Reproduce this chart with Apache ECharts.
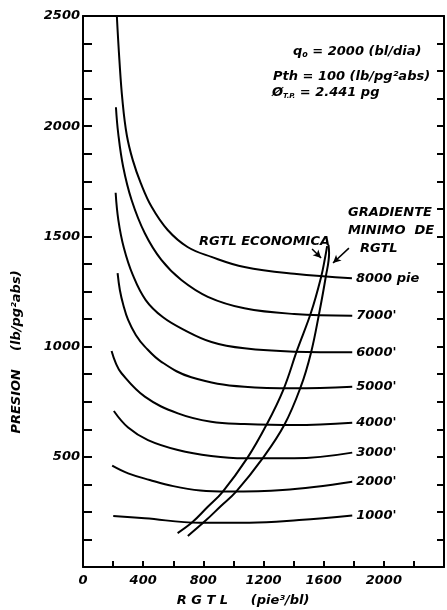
<!DOCTYPE html>
<html><head><meta charset="utf-8">
<script src="https://cdn.jsdelivr.net/npm/echarts@6/dist/echarts.min.js"></script>
<style>html,body{margin:0;padding:0;background:#fff}#c{width:447px;height:610px}</style>
</head><body><div id="c"></div>
<script>
// Tick labels
const xLabelValues = [0, 400, 800, 1200, 1600, 2000];
const yLabelValues = [500, 1000, 1500, 2000, 2500];
// Depth curve labels
const depthLabels = ["8000 pie", "7000'", "6000'", "5000'", "4000'", "3000'", "2000'", "1000'"];
// Pressure curves [RGTL, pressure]
const curve8000 = [[225,2500],[242,2300],[262,2119],[291,1960],[331,1846],[384,1742],[457,1633],[563,1529],[695,1452],[854,1407],[1073,1361],[1404,1330],[1788,1310]];
const curve7000 = [[219,2086],[234,1968],[267,1816],[323,1665],[411,1514],[521,1393],[654,1302],[830,1226],[1073,1174],[1404,1148],[1790,1140]];
const curve6000 = [[217,1698],[235,1574],[272,1447],[331,1325],[417,1211],[530,1134],[675,1075],[854,1021],[1073,992],[1404,977],[1790,974]];
const curve5000 = [[230,1333],[245,1257],[268,1189],[300,1121],[351,1053],[411,1000],[521,931],[720,861],[1073,818],[1404,811],[1790,818]];
const curve4000 = [[190,980],[218,925],[256,879],[411,773],[631,697],[852,659],[1073,649],[1404,644],[1790,655]];
const curve3000 = [[205,708],[300,633],[432,576],[631,531],[852,504],[1073,493],[1404,493],[1790,519]];
const curve2000 = [[194,460],[300,425],[444,395],[600,367],[780,347],[962,342],[1327,349],[1790,387]];
const curve1000 = [[201,231],[411,221],[775,201],[1106,201],[1437,213],[1790,234]];
// RGTL lines
const rgtlEconomica = [[629,154],[728,204],[828,272],[927,340],[1093,495],[1219,644],[1331,803],[1424,985],[1517,1157],[1583,1316],[1609,1402],[1623,1456]];
const rgtlGradiente = [[697,141],[819,213],[917,277],[1018,342],[1194,493],[1338,644],[1448,818],[1515,970],[1570,1151],[1614,1317],[1636,1425],[1632,1461]];
// Annotation arrows [from, to]
const arrowEconomica = [[1523,1443],[1583,1402]];
const arrowGradiente = [[1768,1447],[1662,1379]];

const F = 'DejaVu Sans';
const FONT = 'italic bold 13px "DejaVu Sans"';
const txt = {fontFamily: F, fontStyle: 'italic', fontWeight: 'bold', color: '#000'};
const curves = [curve8000, curve7000, curve6000, curve5000, curve4000, curve3000, curve2000, curve1000];

const series = curves.map((d, i) => ({
  type: 'line', name: depthLabels[i], data: d, symbol: 'none', showSymbol: false,
  smooth: 0.4, clip: true,
  lineStyle: {color: '#000', width: 2},
  endLabel: Object.assign({show: true, formatter: depthLabels[i], fontSize: 13, distance: 4}, txt),
  z: 3
}));
series.push({type: 'line', name: 'econ', data: rgtlEconomica, symbol: 'none', smooth: 0.4,
  lineStyle: {color: '#000', width: 2}, z: 3,
  markLine: {silent: true, symbol: ['none', 'arrow'], symbolSize: [6, 8], animation: false,
    lineStyle: {color: '#000', width: 1.5, type: 'solid'}, label: {show: false},
    data: [[{coord: arrowEconomica[0]}, {coord: arrowEconomica[1]}], [{coord: arrowGradiente[0]}, {coord: arrowGradiente[1]}]]}
});
series.push({type: 'line', name: 'grad', data: rgtlGradiente, symbol: 'none', smooth: 0.4,
  lineStyle: {color: '#000', width: 2}, z: 3});

function label(x, y, text, align) {
  return {type: 'text', x: x, y: y,
    style: {text: text, font: FONT, fill: '#000', align: align || 'left', verticalAlign: 'middle',
      textAlign: align || 'left', textVerticalAlign: 'middle'}};
}
const richA = {fontFamily: F, fontStyle: 'italic', fontWeight: 'bold', fontSize: 13, fill: '#000', color: '#000'};

const chart = echarts.init(document.getElementById('c'), null, {renderer: 'canvas'});
chart.setOption({
  animation: false,
  backgroundColor: '#fff',
  grid: {left: 83, right: 2, top: 16, bottom: 43, containLabel: false},
  xAxis: [{
    type: 'value', min: 0, max: 2400, interval: 200, position: 'bottom',
    axisLine: {show: true, lineStyle: {color: '#000', width: 2}},
    axisTick: {show: true, inside: true, length: 6, lineStyle: {color: '#000', width: 2}},
    splitLine: {show: false},
    axisLabel: Object.assign({fontSize: 13, margin: 7, formatter: v => xLabelValues.includes(v) ? String(v) : ''}, txt)
  }, {
    type: 'value', min: 0, max: 2400, position: 'top',
    axisLine: {show: true, onZero: false, lineStyle: {color: '#000', width: 2}},
    axisTick: {show: false}, axisLabel: {show: false}, splitLine: {show: false}
  }],
  yAxis: [{
    type: 'value', min: 0, max: 2500, interval: 125, position: 'left',
    axisLine: {show: true, lineStyle: {color: '#000', width: 2}},
    axisTick: {show: true, inside: true, length: 9, lineStyle: {color: '#000', width: 2}},
    splitLine: {show: false},
    axisLabel: Object.assign({fontSize: 13, margin: 3, verticalAlign: 'middle', padding: [0, 0, 7, 0],
      formatter: v => yLabelValues.includes(v) ? String(v) : ''}, txt)
  }, {
    type: 'value', min: 0, max: 2500, interval: 125, position: 'right',
    axisLine: {show: true, onZero: false, lineStyle: {color: '#000', width: 2}},
    axisTick: {show: true, inside: true, length: 7, lineStyle: {color: '#000', width: 2}},
    axisLabel: {show: false}, splitLine: {show: false}
  }],
  graphic: [
    {type: 'text', x: 17, y: 352, rotation: Math.PI / 2,
      style: {text: 'PRESION    (lb/pg²abs)', font: FONT, fill: '#000',
        align: 'center', verticalAlign: 'middle', textAlign: 'center', textVerticalAlign: 'middle'}},
    label(243, 601, 'R G T L     (pie³/bl)', 'center'),
    {type: 'text', x: 293, y: 52,
      style: {text: '{a|q}{b|o}{a| = 2000 (bl/dia)}', fill: '#000', align: 'left', verticalAlign: 'middle',
        textAlign: 'left', textVerticalAlign: 'middle',
        rich: {a: richA, b: Object.assign({}, richA, {fontSize: 8, padding: [6, 0, 0, 0]})}}},
    label(273, 77, 'Pth = 100 (lb/pg²abs)'),
    {type: 'text', x: 272, y: 93,
      style: {text: '{a|Ø}{b|T.P.}{a| = 2.441 pg}', fill: '#000', align: 'left', verticalAlign: 'middle',
        textAlign: 'left', textVerticalAlign: 'middle',
        rich: {a: richA, b: Object.assign({}, richA, {fontSize: 7, padding: [6, 0, 0, 0]})}}},
    label(330, 242, 'RGTL ECONOMICA', 'right'),
    label(348, 213, 'GRADIENTE'),
    label(348, 231, 'MINIMO  DE'),
    label(360, 249, 'RGTL')
  ],
  series: series
});
</script></body></html>
